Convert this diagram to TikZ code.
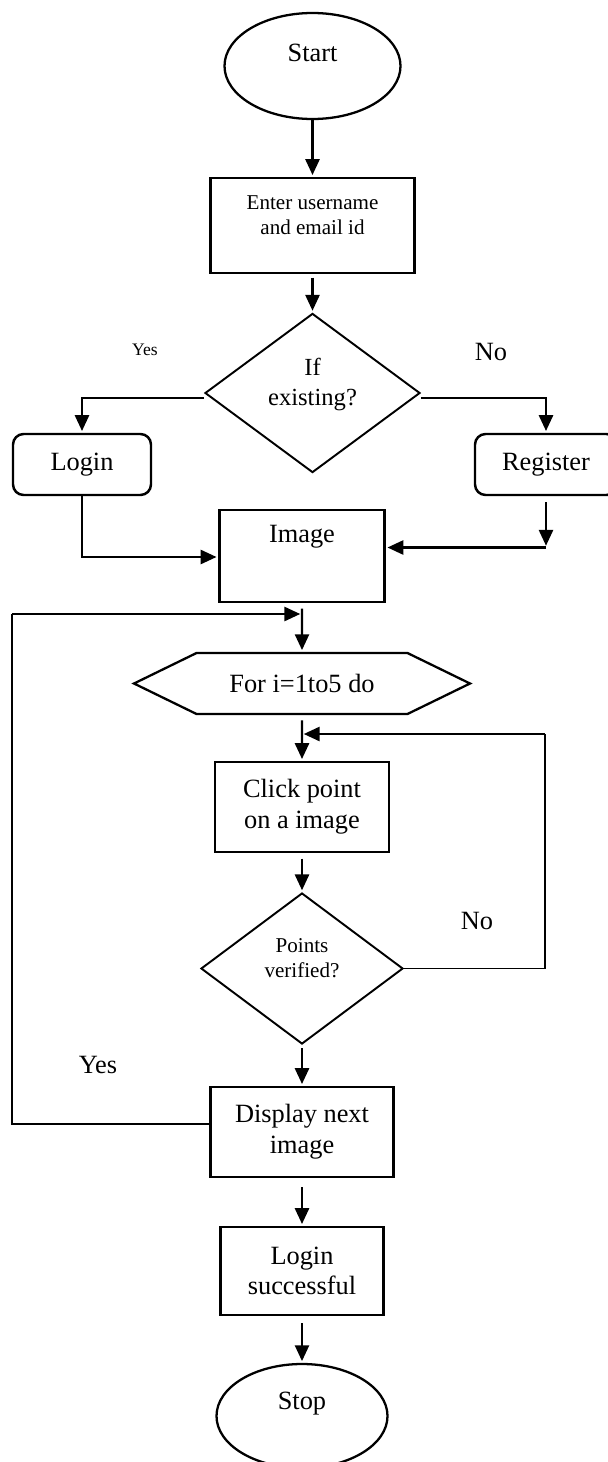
\documentclass[tikz,border=0pt]{standalone}
\usepackage{fontspec}
\setmainfont{Liberation Serif}
\usepackage{tikz}
\usetikzlibrary{shapes.geometric, shapes.symbols, arrows.meta, positioning}

\begin{document}
\begin{tikzpicture}[
        terminal/.style={
            ellipse,
            draw,
            line width=1.3pt,
            inner sep=0pt
        },
        process/.style={
            rectangle,
            draw,
            line width=1.4pt,
            align=center,
            font=\fontsize{15}{17.5}\selectfont
        },
        roundbox/.style={
            rectangle,
            draw,
            rounded corners=6pt,
            line width=1.4pt,
            minimum height=1.22cm,
            font=\fontsize{15}{17.5}\selectfont
        },
        choice/.style={
            diamond,
            draw,
            line width=1.1pt,
            inner sep=0pt,
            align=center
        },
        loopbox/.style={
            signal,
            signal to=east and west,
            signal pointer angle=52,
            draw,
            line width=1.3pt,
            inner sep=0pt,
            font=\fontsize{15}{17.5}\selectfont
        },
        flow/.style={
            -{Triangle[length=9pt,width=8pt]},
            line width=1.3pt,
            shorten >=1pt
        },
        plain/.style={
            line width=1.1pt
        },
        note/.style={
            font=\fontsize{15}{17.5}\selectfont
        }
    ]
        \useasboundingbox (0, 0) rectangle (12.14, -29.24);

        % Login part
        \node[terminal, minimum width=3.52cm, minimum height=2.12cm] (start) at (6.25, -1.32) {};
        \node[note] (starttext) at (6.25, -1.06) {Start};
        \node[process, minimum width=4.08cm, minimum height=1.9cm] (enter) at (6.25, -4.51) {};
        \node[font=\fontsize{12}{14.2}\selectfont, align=center] (entertext) at (6.25, -4.31) {Enter username\\and email id};
        \node[choice, minimum width=4.3cm, minimum height=3.16cm, font=\fontsize{14}{17}\selectfont] (exist) at (6.25, -7.86) {If\\existing?\\[-0.6ex]};
        \node[roundbox, minimum width=2.76cm] (login) at (1.64, -9.29) {Login};
        \node[roundbox, minimum width=2.84cm] (register) at (10.92, -9.29) {Register};
        \node[process, minimum width=3.3cm, minimum height=1.84cm] (image) at (6.04, -11.12) {};
        \node[note] (imagetext) at (6.04, -10.74) {Image};

        % Loop over the images
        \node[loopbox, minimum width=6.72cm, minimum height=1.22cm] (loop) at (6.04, -13.67) {For i=1to5 do};
        \node[process, minimum width=3.48cm, minimum height=1.8cm] (click) at (6.04, -16.14) {Click point\\on a image};
        \node[choice, minimum width=4.04cm, minimum height=3.02cm, font=\fontsize{12}{14.2}\selectfont] (verify) at (6.04, -19.37) {Points\\verified?\\[-0.4ex]};
        \node[process, minimum width=3.66cm, minimum height=1.8cm] (display) at (6.04, -22.64) {Display next\\image};
        \node[process, minimum width=3.26cm, minimum height=1.76cm] (success) at (6.04, -25.42) {Login\\successful};
        \node[terminal, minimum width=3.42cm, minimum height=2.08cm] (stop) at (6.04, -28.32) {};
        \node[note] (stoptext) at (6.04, -28.08) {Stop};

        % Labels
        \node[font=\fontsize{10}{12}\selectfont] (yesone) at (2.9, -7.0) {Yes};
        \node[note] (noone) at (9.82, -7.04) {No};
        \node[note] (notwo) at (9.54, -18.42) {No};
        \node[note] (yestwo) at (1.96, -21.3) {Yes};

        % Turning points
        \coordinate (regturn) at (10.92, -10.95);
        \coordinate (noturn) at (10.9, -14.68);
        \coordinate (yesturn) at (0.24, -12.28);

        % Connections
        \draw[flow] (start) -- (enter);
        \draw[flow, shorten <=2pt] (enter) -- (exist);
        \draw[flow] ([yshift=-0.1cm]exist.west) -| (login.north);
        \draw[flow] ([yshift=-0.1cm]exist.east) -| (register.north);
        \draw[flow] (login.south) |- ([yshift=-0.02cm]image.west);
        \draw[flow] ([yshift=-0.12cm]register.south) -- (regturn);
        \draw[flow] (regturn) -- (image.east |- regturn);
        \draw[flow, shorten <=3pt] (image) -- (loop);
        \draw[flow, shorten <=3pt] (loop) -- (click);
        \draw[flow, shorten <=3pt] (click) -- (verify);
        \draw[flow, shorten <=2pt] (verify) -- (display);
        \draw[flow, shorten <=5pt] (display) -- (success);
        \draw[flow, shorten <=4pt] (success) -- (stop);

        % Back loops
        \draw[plain] (verify.east) -| (noturn);
        \draw[flow] (noturn) -- (click.north |- noturn);
        \draw[plain] ([yshift=0.16cm]display.west) -| (yesturn);
        \draw[flow] (yesturn) -- (image.south |- yesturn);

    \end{tikzpicture}
\end{document}
